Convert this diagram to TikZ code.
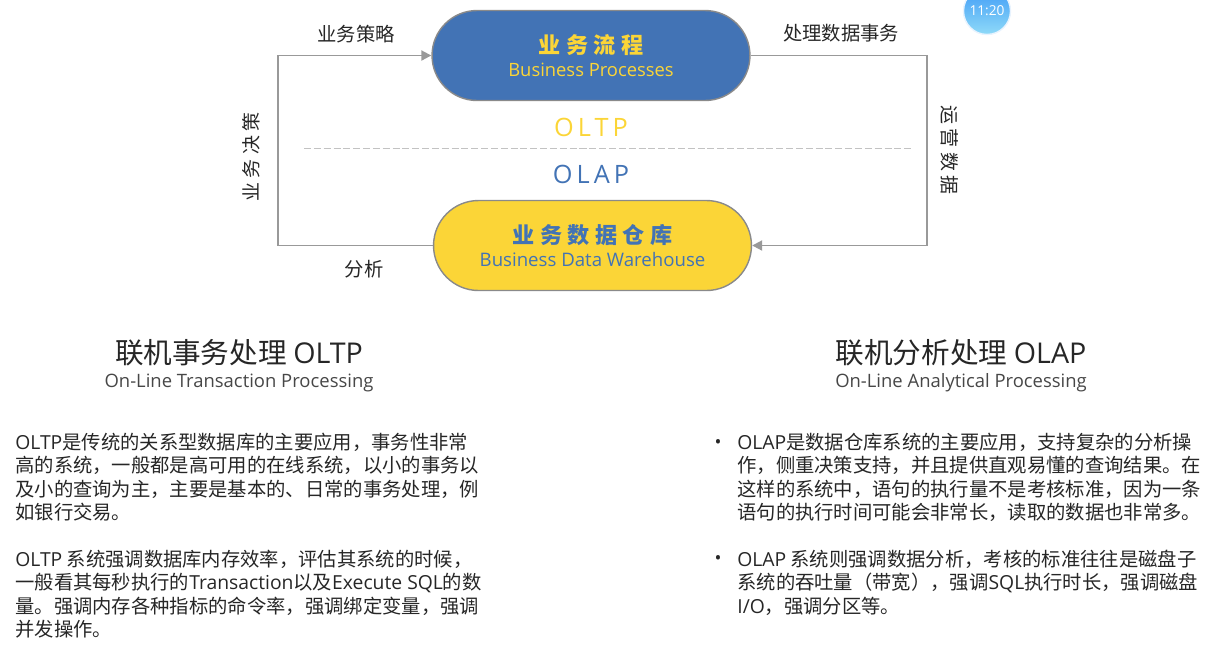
\documentclass[tikz,border=0pt]{standalone}
\usepackage{fontspec}
\usepackage{tikz}
\usetikzlibrary{arrows.meta, positioning, shapes.misc}
\setmainfont{Noto Sans CJK SC}
\newfontfamily\enfont{Open Sans}
\newfontfamily\cjkwide[LetterSpace=24]{Noto Sans CJK SC}
\newfontfamily\enwide[LetterSpace=16]{Open Sans}
\newcommand{\entxt}[1]{{\enfont #1}}
\definecolor{procc}{HTML}{4273B5}
\definecolor{whc}{HTML}{FBD537}
\definecolor{linec}{HTML}{999999}
\definecolor{bodyc}{HTML}{262626}
\definecolor{clocktop}{HTML}{3F9BF6}
\definecolor{clockbot}{HTML}{8FDAF8}

\begin{document}
\begin{tikzpicture}[x=0.02cm, y=-0.02cm, >=Stealth,
      pill/.style={rounded rectangle, draw=linec!90!black, line width=0.8pt,
                   minimum width=6.36cm, minimum height=1.8cm, align=center, inner sep=0pt},
      flow/.style={draw=linec, line width=1.1pt},
      lbl/.style={font=\fontsize{11}{13}\selectfont, text=bodyc},
      vlbl/.style={font=\fontsize{10.8}{13}\cjkwide, text=bodyc},
      body/.style={anchor=north west, align=left, inner sep=0pt, text=bodyc,
                   font=\fontsize{11}{13.4}\selectfont},
      headline/.style={font=\fontsize{16.3}{20}\selectfont, text=bodyc},
      subline/.style={font=\fontsize{10.5}{13}\enfont, text=bodyc!85}]
    \path[use as bounding box, clip] (0,0) rectangle (1224,654);

    \node[pill, fill=procc, text=whc] (proc) at (591,55.5)
      {{\fontsize{12.6}{16}\cjkwide\bfseries 业务流程}\\[1pt]
       {\fontsize{10.45}{12}\enfont Business Processes}};
    \node[pill, fill=whc, text=procc] (dw) at (592.5,245.5)
      {{\fontsize{12.6}{16}\cjkwide\bfseries 业务数据仓库}\\[1pt]
       {\fontsize{10.6}{12}\enfont Business Data Warehouse}};

    \coordinate (lt) at (278,55.5);
    \coordinate (lb) at (278,245.5);
    \coordinate (rt) at (927,55.5);
    \coordinate (rb) at (927,245.5);
    \coordinate (dl) at (304,148);
    \coordinate (dr) at (914,148);

    \draw[flow, -{Triangle[length=5.7pt, width=5.7pt]}] (dw.west) -- (lb) -- (lt) -- (proc.west);
    \draw[flow, -{Triangle[length=5.7pt, width=5.7pt]}] (proc.east) -- (rt) -- (rb) -- (dw.east);
    \draw[linec!60, dashed, dash pattern=on 4pt off 1.6pt, line width=0.5pt] (dl) -- (dr);

    \node[lbl] (strat) at (356,34) {业务策略};
    \node[lbl] (trans) at (841,33) {处理数据事务};
    \node[lbl] (anal) at (364,269) {分析};
    \node[vlbl, rotate=90] (decide) at (251,157) {业务决策};
    \node[vlbl, rotate=-90] (ops) at (950,150) {运营数据};

    \node[font=\fontsize{14.4}{18}\enwide, text=whc] (oltp) at (591,127) {OLTP};
    \node[font=\fontsize{14.4}{18}\enwide, text=procc] (olap) at (591,174.5) {OLAP};

    \node[headline] (ltitle) at (239,353) {联机事务处理 \entxt{OLTP}};
    \node[subline] (lsub) at (239,383) {On-Line Transaction Processing};
    \node[headline] (rtitle) at (961,353) {联机分析处理 \entxt{OLAP}};
    \node[subline] (rsub) at (961,383) {On-Line Analytical Processing};

    \node[body] (lone) at (15,432.5)
      {\entxt{OLTP}是传统的关系型数据库的主要应用，事务性非常\\
       高的系统，一般都是高可用的在线系统，以小的事务以\\
       及小的查询为主，主要是基本的、日常的事务处理，例\\
       如银行交易。};
    \node[body] (ltwo) at (15,549.5)
      {\entxt{OLTP} 系统强调数据库内存效率，评估其系统的时候，\\
       一般看其每秒执行的\entxt{Transaction}以及\entxt{Execute SQL}的数\\
       量。强调内存各种指标的命令率，强调绑定变量，强调\\
       并发操作。};
    \node[body] (rone) at (737,432.5)
      {\entxt{OLAP}是数据仓库系统的主要应用，支持复杂的分析操\\
       作，侧重决策支持，并且提供直观易懂的查询结果。在\\
       这样的系统中，语句的执行量不是考核标准，因为一条\\
       语句的执行时间可能会非常长，读取的数据也非常多。};
    \node[body] (rtwo) at (737,549.5)
      {\entxt{OLAP} 系统则强调数据分析，考核的标准往往是磁盘子\\
       系统的吞吐量（带宽），强调\entxt{SQL}执行时长，强调磁盘\\
       \entxt{I/O}，强调分区等。};
    \node[font=\fontsize{10.5}{13}\enfont, text=bodyc] (bone) at (718,444) {•};
    \node[font=\fontsize{10.5}{13}\enfont, text=bodyc] (btwo) at (718,560) {•};

    \node[circle, minimum size=0.94cm, inner sep=0pt, top color=clocktop,
          bottom color=clockbot, draw=clocktop!12, line width=0.8pt, text=white,
          font=\fontsize{7.8}{9}\enfont] (clock) at (987,11) {11:20};
  \end{tikzpicture}
\end{document}
